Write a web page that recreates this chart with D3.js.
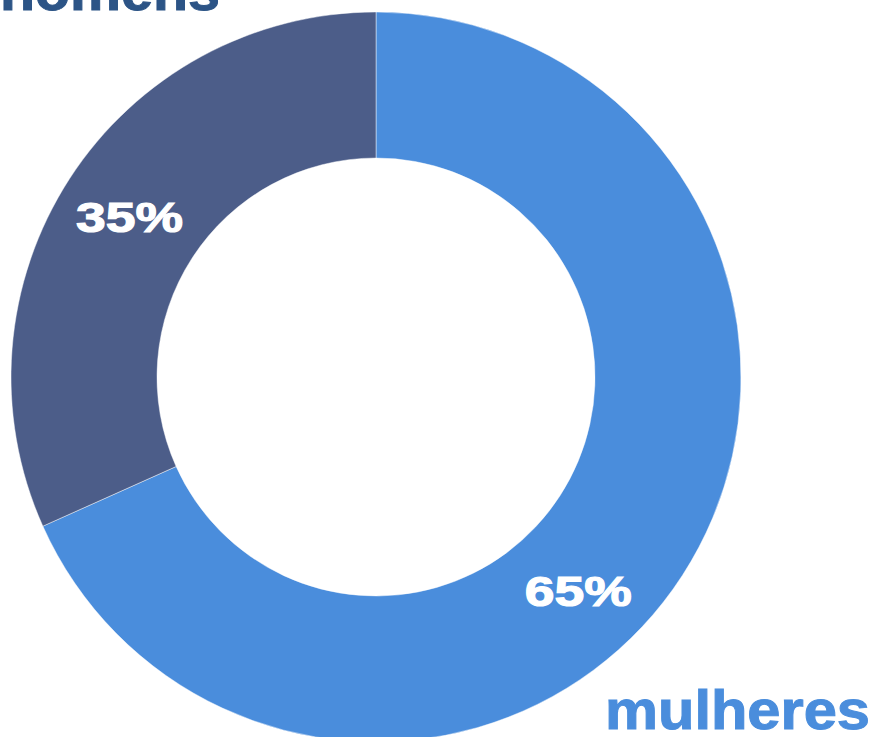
<!DOCTYPE html>
<html>
<head>
<meta charset="utf-8">
<script src="https://cdn.jsdelivr.net/npm/d3@7"></script>
<style>
  body { margin: 0; background: #fff; }
  svg { display: block; }
  text { font-family: "Liberation Sans", Arial, sans-serif; font-weight: bold; }
</style>
</head>
<body>
<script>
let width = 876, height = 737;

// slices as drawn (clockwise from 12 o'clock), and the labels printed on them
let groups = ['mulheres', 'homens'];
let shares = [68.3, 31.7];
let pctLabels = ['65%', '35%'];
let colors = ['#4a8ddc', '#4c5d89'];

let cx = 376, cy = 377, outerR = 365, innerR = 219;

let svg = d3.select('body').append('svg')
    .attr('width', width)
    .attr('height', height);

let pie = d3.pie().sort(null).value(d => d.value);
let arcs = pie(groups.map((g, i) => ({name: g, value: shares[i], label: pctLabels[i], color: colors[i]})));

let arc = d3.arc().innerRadius(innerR).outerRadius(outerR);

let g = svg.append('g').attr('transform', `translate(${cx},${cy})`);

g.selectAll('path')
    .data(arcs)
    .join('path')
    .attr('d', arc)
    .attr('fill', d => d.data.color)
    .attr('stroke', 'rgba(255,255,255,0.45)')
    .attr('stroke-width', 1);

// label placement: angle in degrees (clockwise from top) and radius
let labelAngle = [136.5, 303], labelR = 294;
g.selectAll('text.pct')
    .data(arcs)
    .join('text')
    .attr('class', 'pct')
    .attr('x', (d, i) => labelR * Math.sin(labelAngle[i] * Math.PI / 180))
    .attr('y', (d, i) => -labelR * Math.cos(labelAngle[i] * Math.PI / 180))
    .attr('dy', '0.36em')
    .attr('text-anchor', 'middle')
    .attr('fill', '#fff')
    .attr('stroke', '#fff')
    .attr('stroke-width', 1.2)
    .style('font-size', '43px')
    .attr('textLength', 107)
    .attr('lengthAdjust', 'spacingAndGlyphs')
    .text(d => d.data.label);

// category names
svg.append('text')
    .attr('x', 0).attr('y', 10)
    .attr('fill', '#2c5486')
    .attr('stroke', '#2c5486')
    .attr('stroke-width', 1)
    .style('font-size', '55px')
    .attr('textLength', 220)
    .attr('lengthAdjust', 'spacingAndGlyphs')
    .text(groups[1]);

svg.append('text')
    .attr('x', 605).attr('y', 729)
    .attr('fill', colors[0])
    .attr('stroke', colors[0])
    .attr('stroke-width', 1)
    .style('font-size', '55px')
    .attr('textLength', 265)
    .attr('lengthAdjust', 'spacingAndGlyphs')
    .text(groups[0]);
</script>
</body>
</html>
